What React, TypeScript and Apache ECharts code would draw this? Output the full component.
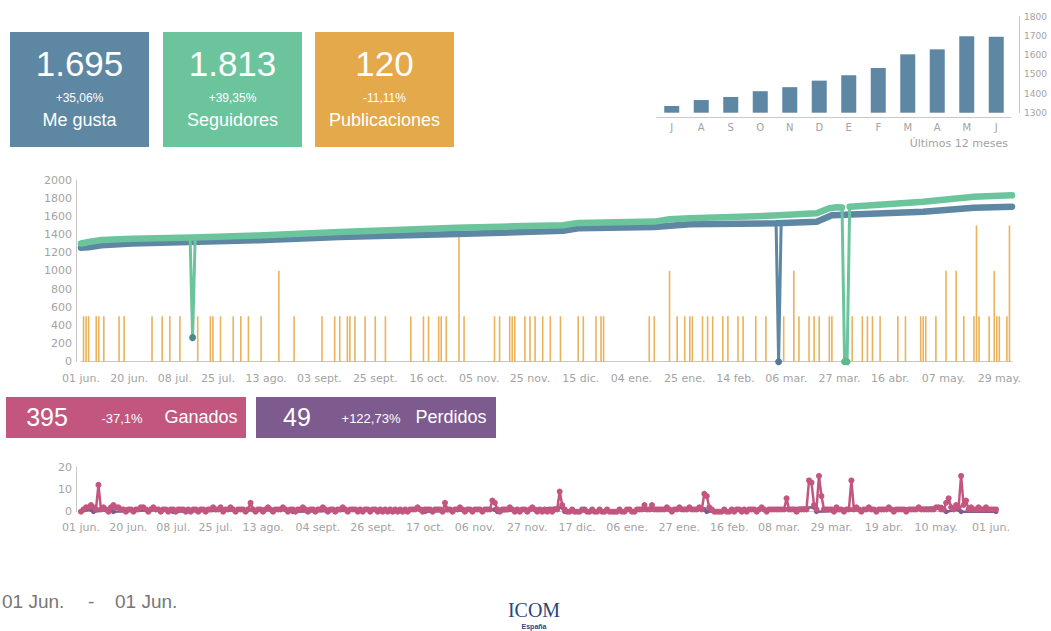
import React, { useEffect, useRef } from 'react';
import * as echarts from 'echarts';

// ---------- DATA ----------
const kpiValues = ['1.695', '1.813', '120'];
const kpiChanges = ['+35,06%', '+39,35%', '-11,11%'];
const kpiNames = ['Me gusta', 'Seguidores', 'Publicaciones'];

const gainLossValues = ['395', '49'];
const gainLossChanges = ['-37,1%', '+122,73%'];
const gainLossNames = ['Ganados', 'Perdidos'];

// monthly likes (last 12 months)
const monthKeys = ['jul', 'ago', 'sep', 'oct', 'nov', 'dic', 'ene', 'feb', 'mar', 'abr', 'may', 'jun'];
const monthLabels = ['J', 'A', 'S', 'O', 'N', 'D', 'E', 'F', 'M', 'A', 'M', 'J'];
const monthlyLikes = [1335, 1366, 1382, 1412, 1433, 1467, 1495, 1533, 1604, 1630, 1698, 1695];

// daily axis: day 0 = 01 jun.
const DAY_COUNT = 368;
const mainTickDays = [0, 19, 37, 54, 73, 94, 116, 137, 157, 177, 197, 217, 238, 258, 278, 299, 319, 340, 362];
const mainTickLabels = ['01 jun.', '20 jun.', '08 jul.', '25 jul.', '13 ago.', '03 sept.', '25 sept.', '16 oct.', '05 nov.', '25 nov.', '15 dic.', '04 ene.', '25 ene.', '14 feb.', '06 mar.', '27 mar.', '16 abr.', '07 may.', '29 may.'];
const bottomTickDays = [0, 19, 37, 54, 73, 95, 117, 138, 158, 179, 199, 219, 240, 260, 280, 301, 322, 343, 365];
const bottomTickLabels = ['01 jun.', '20 jun.', '08 jul.', '25 jul.', '13 ago.', '04 sept.', '26 sept.', '17 oct.', '06 nov.', '27 nov.', '17 dic.', '06 ene.', '27 ene.', '16 feb.', '08 mar.', '29 mar.', '19 abr.', '10 may.', '01 jun.'];

// [day, value]
const likesLine = [[0, 1255], [3, 1260], [8, 1282], [20, 1300], [70, 1338], [102, 1372], [148, 1405], [190, 1440], [196, 1468], [226, 1482], [240, 1512], [274, 1523], [290, 1540], [296, 1612], [332, 1651], [352, 1695], [367, 1706]];
const likesDip = [[274, 1523], [275, 0], [276, 1524]];
const followersLine = [[0, 1301], [3, 1318], [8, 1340], [20, 1352], [44, 1368], [70, 1390], [102, 1428], [148, 1474], [170, 1490], [190, 1502], [196, 1528], [226, 1542], [232, 1568], [240, 1578], [273, 1608], [290, 1633], [295, 1690], [298, 1700], [300, 1697], [301, '-'], [303, 1705], [332, 1761], [352, 1815], [367, 1832]];
const followersDip1 = [[43, 1366], [44, 265], [45, 1368]];
const followersDip2 = [[300, 1697], [301, 0], [302, 0], [303, 1705]];

const posts = [[1, 500], [2, 500], [3, 500], [6, 500], [7, 500], [9, 500], [15, 500], [17, 500], [28, 500], [32, 500], [35, 500], [39, 500], [46, 500], [51, 500], [52, 500], [55, 500], [60, 500], [63, 500], [66, 500], [71, 500], [78, 1000], [84, 500], [95, 500], [100, 500], [102, 500], [105, 500], [106, 500], [108, 500], [112, 500], [116, 500], [120, 500], [130, 500], [135, 500], [137, 500], [141, 500], [142, 500], [144, 500], [149, 1500], [151, 500], [163, 500], [165, 500], [169, 500], [170, 500], [171, 500], [175, 500], [177, 500], [179, 500], [182, 500], [185, 500], [189, 500], [196, 500], [198, 500], [203, 500], [205, 500], [206, 500], [224, 500], [226, 500], [232, 1000], [235, 500], [238, 500], [240, 500], [241, 500], [245, 500], [247, 500], [249, 500], [253, 500], [255, 500], [259, 500], [261, 500], [266, 500], [270, 500], [277, 500], [281, 1000], [283, 500], [287, 500], [289, 500], [291, 500], [295, 500], [296, 500], [304, 500], [308, 500], [310, 500], [312, 500], [315, 500], [322, 500], [325, 500], [331, 500], [332, 500], [333, 500], [337, 500], [341, 1000], [345, 1000], [348, 500], [352, 500], [353, 1500], [354, 500], [358, 500], [360, 1000], [361, 500], [362, 500], [365, 500], [366, 1500]];

// daily gained followers (day 0..367)
const gained = [
  0, 1, 2, 2, 3, 2, 1, 12, 1, 2, 1, 0, 2, 3, 2, 2, 1, 1, 0, 1,
  1, 0, 1, 1, 2, 2, 1, 0, 1, 2, 1, 1, 0, 1, 1, 0, 1, 1, 0, 1,
  1, 1, 0, 1, 0, 1, 1, 0, 1, 1, 0, 1, 1, 2, 1, 1, 2, 0, 1, 1,
  2, 1, 0, 1, 1, 1, 0, 1, 4, 1, 0, 1, 1, 0, 1, 2, 1, 0, 1, 1,
  1, 2, 1, 0, 1, 1, 0, 1, 1, 2, 1, 0, 1, 1, 0, 1, 1, 2, 1, 0,
  1, 1, 0, 1, 1, 2, 1, 0, 1, 1, 1, 0, 1, 0, 1, 1, 0, 1, 1, 0,
  1, 0, 1, 0, 1, 0, 1, 0, 1, 0, 1, 0, 1, 1, 1, 2, 1, 0, 1, 1,
  1, 0, 1, 1, 1, 0, 4, 1, 1, 0, 1, 1, 2, 1, 0, 1, 1, 0, 1, 1,
  1, 0, 1, 1, 1, 5, 4, 1, 0, 1, 1, 1, 2, 1, 0, 1, 0, 1, 1, 0,
  1, 2, 1, 0, 1, 0, 1, 0, 1, 0, 1, 1, 9, 3, 1, 0, 0, 1, 0, 0,
  0, 1, 1, 0, 0, 1, 0, 0, 1, 0, 0, 1, 0, 0, 0, 0, 1, 0, 0, 1,
  1, 0, 0, 1, 1, 1, 3, 1, 1, 3, 1, 1, 1, 1, 1, 2, 1, 0, 1, 1,
  2, 1, 1, 1, 2, 1, 1, 1, 2, 1, 8, 7, 2, 1, 0, 0, 0, 0, 1, 0,
  0, 1, 0, 1, 1, 0, 1, 0, 1, 1, 1, 0, 1, 2, 1, 0, 1, 1, 1, 1,
  1, 1, 1, 6, 1, 1, 1, 0, 1, 1, 1, 1, 14, 13, 3, 1, 16, 7, 1, 1,
  1, 1, 0, 2, 1, 1, 0, 1, 1, 14, 1, 2, 1, 0, 1, 1, 2, 1, 1, 0,
  1, 1, 1, 1, 2, 1, 0, 1, 1, 1, 1, 0, 1, 1, 1, 1, 2, 1, 1, 1,
  1, 1, 1, 2, 2, 1, 1, 4, 6, 2, 1, 3, 2, 16, 3, 5, 1, 2, 1, 1,
  2, 1, 1, 2, 1, 1, 1, 1,
];
// lost followers [day, value]
const lost = [[0, 0], [4, 1], [5, 0], [12, 1], [13, 0], [36, 1], [37, 0], [84, 1], [85, 0], [137, 1], [138, 0], [166, 1], [167, 0], [193, 2], [194, 0], [250, 1], [251, 0], [294, 2], [295, 0], [345, 2], [346, 1], [347, 0], [352, 1], [353, 0], [367, 0]];

// ---------- STYLE ----------
const SANS = '"Liberation Sans", Arial, sans-serif';
const AXF = '"DejaVu Sans", sans-serif';
const C_BLUE = '#5e87a4';
const C_GREEN = '#6cc49d';
const C_ORANGE = '#e3a94a';
const C_PINK = '#c2567e';
const C_PURPLE = '#7d5b8e';
const AX_LINE = '#c8c8c8';
const AX_TEXT = '#a3a3a3';

const dayCats = Array.from({ length: DAY_COUNT }, (_, i) => String(i));
const mainTickMap: Record<string, string> = {};
mainTickDays.forEach((d, i) => { mainTickMap[String(d)] = mainTickLabels[i]; });
const bottomTickMap: Record<string, string> = {};
bottomTickDays.forEach((d, i) => { bottomTickMap[String(d)] = bottomTickLabels[i]; });

function txt(x: number, y: number, text: string, size: number, color: string, align = 'center', family = SANS, weight: any = 'normal') {
  return {
    type: 'text', x, y, z: 20,
    style: { text, fill: color, fontSize: size, fontFamily: family, fontWeight: weight, align, verticalAlign: 'middle' },
  };
}
function box(x: number, y: number, w: number, h: number, fill: string) {
  return { type: 'rect', z: 5, shape: { x, y, width: w, height: h }, style: { fill } };
}

function buildOption() {
  const kpiColors = [C_BLUE, C_GREEN, C_ORANGE];
  const kpiX = [10, 163, 315];
  const graphic: any[] = [];
  kpiX.forEach((x, i) => {
    graphic.push(box(x, 32, 139, 115, kpiColors[i]));
    const cx = x + 69.5;
    graphic.push(txt(cx, 63, kpiValues[i], 35, '#fff'));
    graphic.push(txt(cx, 98, kpiChanges[i], 12, '#fff'));
    graphic.push(txt(cx, 120, kpiNames[i], 18, '#fff'));
  });
  const glX = [6, 256];
  const glColors = [C_PINK, C_PURPLE];
  const glNumX = [47, 297];
  const glChX = [122, 371];
  const glNameX = [201, 451];
  glX.forEach((x, i) => {
    graphic.push(box(x, 397, 240, 41, glColors[i]));
    graphic.push(txt(glNumX[i], 417, gainLossValues[i], 25, '#fff'));
    graphic.push(txt(glChX[i], 418, gainLossChanges[i], 13, '#fff'));
    graphic.push(txt(glNameX[i], 417, gainLossNames[i], 18, '#fff'));
  });
  graphic.push(txt(1008, 143, 'Últimos 12 meses', 11, AX_TEXT, 'right', AXF));
  graphic.push(txt(2, 601, '01 Jun.', 19, '#777', 'left'));
  graphic.push(txt(88, 601, '-', 19, '#777', 'left'));
  graphic.push(txt(115, 601, '01 Jun.', 19, '#777', 'left'));
  graphic.push(txt(534, 610, 'ICOM', 20, '#2b4680', 'center', '"Liberation Serif", serif'));
  graphic.push(txt(534, 626, 'España', 7, '#2b4680', 'center', SANS, 'bold'));

  const axisLineStyle = { show: true, lineStyle: { color: AX_LINE, width: 1 } };
  const lbl = (size: number, margin: number) => ({ color: AX_TEXT, fontSize: size, fontFamily: AXF, margin });
  const plain = (v: number) => String(v);
  const dipSize = (v: any) => (v[1] < 1000 ? 7 : 0);

  return {
    animation: false,
    backgroundColor: '#fff',
    graphic,
    grid: [
      { left: 657, right: 40, top: 16.7, bottom: 518.3 },
      { left: 81, right: 39, top: 180, bottom: 269.3 },
      { left: 81, right: 55, top: 467, bottom: 119.3 },
    ],
    xAxis: [
      {
        gridIndex: 0, type: 'category', data: monthKeys, offset: 5,
        axisLine: axisLineStyle, axisTick: { show: false },
        axisLabel: { ...lbl(10, 5), formatter: (_v: string, i: number) => monthLabels[i] },
      },
      {
        gridIndex: 1, type: 'category', data: dayCats, boundaryGap: false, offset: 7,
        axisLine: axisLineStyle, axisTick: { show: false },
        axisLabel: { ...lbl(11, 4), interval: (i: number) => mainTickMap[String(i)] !== undefined, formatter: (v: string) => mainTickMap[v] || '' },
      },
      {
        gridIndex: 2, type: 'category', data: dayCats, boundaryGap: false, offset: 6,
        axisLine: axisLineStyle, axisTick: { show: false },
        axisLabel: { ...lbl(11, 4), interval: (i: number) => bottomTickMap[String(i)] !== undefined, formatter: (v: string) => bottomTickMap[v] || '' },
      },
    ],
    yAxis: [
      {
        gridIndex: 0, type: 'value', position: 'right', min: 1300, max: 1800, interval: 100, offset: 8,
        axisLine: axisLineStyle, axisTick: { show: false }, splitLine: { show: false },
        axisLabel: { ...lbl(9, 5), formatter: plain },
      },
      {
        gridIndex: 1, type: 'value', min: 0, max: 2000, interval: 200, offset: 5,
        axisLine: axisLineStyle, axisTick: { show: false }, splitLine: { show: false },
        axisLabel: { ...lbl(11, 4), formatter: plain },
      },
      {
        gridIndex: 2, type: 'value', min: 0, max: 20, interval: 10, offset: 5,
        axisLine: axisLineStyle, axisTick: { show: false }, splitLine: { show: false },
        axisLabel: { ...lbl(11, 4), formatter: plain },
      },
    ],
    series: [
      {
        type: 'bar', xAxisIndex: 0, yAxisIndex: 0, data: monthlyLikes, barWidth: 15,
        itemStyle: { color: C_BLUE },
      },
      {
        type: 'bar', xAxisIndex: 1, yAxisIndex: 1, data: posts, barWidth: 1.6, z: 1,
        itemStyle: { color: '#eab25a' },
      },
      {
        type: 'line', xAxisIndex: 1, yAxisIndex: 1, data: likesLine, symbol: 'none', clip: false, z: 3,
        lineStyle: { color: C_BLUE, width: 6.5, cap: 'round', join: 'round' },
      },
      {
        type: 'line', xAxisIndex: 1, yAxisIndex: 1, clip: false, z: 3,
        symbol: 'circle', symbolSize: dipSize, showAllSymbol: true, data: likesDip,
        itemStyle: { color: '#55799a' },
        lineStyle: { color: C_BLUE, width: 3, cap: 'round', join: 'round' },
      },
      {
        type: 'line', xAxisIndex: 1, yAxisIndex: 1, data: followersLine, symbol: 'none', clip: false, z: 4,
        lineStyle: { color: C_GREEN, width: 6.5, cap: 'round', join: 'round' },
      },
      {
        type: 'line', xAxisIndex: 1, yAxisIndex: 1, clip: false, z: 4,
        symbol: 'circle', symbolSize: dipSize, showAllSymbol: true, data: followersDip1,
        itemStyle: { color: '#4a8a8e' },
        lineStyle: { color: C_GREEN, width: 3, cap: 'round', join: 'round' },
      },
      {
        type: 'line', xAxisIndex: 1, yAxisIndex: 1, clip: false, z: 4,
        symbol: 'circle', symbolSize: dipSize, showAllSymbol: true, data: followersDip2,
        itemStyle: { color: '#5cb890' },
        lineStyle: { color: C_GREEN, width: 3, cap: 'round', join: 'round' },
      },
      {
        type: 'line', xAxisIndex: 2, yAxisIndex: 2, data: lost, symbol: 'circle', symbolSize: 5, showAllSymbol: true,
        itemStyle: { color: C_PURPLE }, lineStyle: { color: C_PURPLE, width: 2.5 }, z: 2,
      },
      {
        type: 'line', xAxisIndex: 2, yAxisIndex: 2, data: gained, symbol: 'circle', symbolSize: 6, showAllSymbol: true,
        itemStyle: { color: C_PINK }, lineStyle: { color: C_PINK, width: 2.5 }, z: 3,
      },
    ],
  };
}

export default function App() {
  const ref = useRef<HTMLDivElement>(null);
  useEffect(() => {
    const chart = echarts.init(ref.current as HTMLDivElement, null, { renderer: 'svg' });
    chart.setOption(buildOption() as any);
    return () => chart.dispose();
  }, []);
  return (
    <div
      ref={ref}
      style={{ position: 'absolute', left: 0, top: 0, width: 1051, height: 631, background: '#fff' }}
    />
  );
}
